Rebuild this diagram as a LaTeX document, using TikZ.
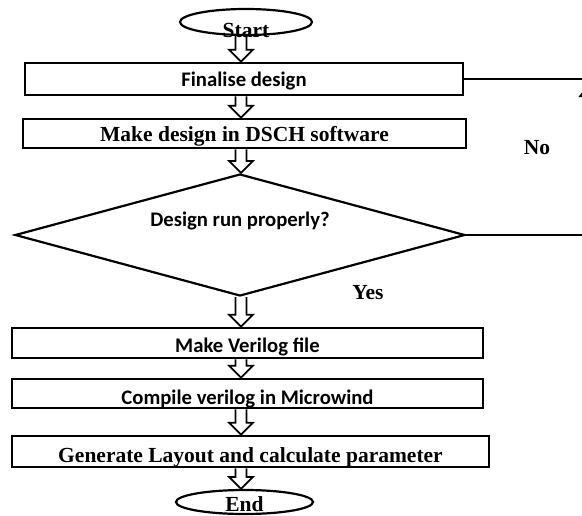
\documentclass[tikz,border=0pt]{standalone}
\usepackage{fontspec}
\setmainfont{Liberation Serif}
\newfontfamily\calib{Carlito}
\usetikzlibrary{positioning,calc,arrows.meta,shapes.geometric}

% hollow block arrow from one node down to the next, on the spine
\newcommand{\blockarrow}[2]{%
  \draw[hollow] let \p1=(#1.south -| spine), \p2=(#2.north -| spine) in
    (\x1-5.5pt,\y1) -- (\x1-5.5pt,\y2+12pt) -- (\x1-12pt,\y2+12pt) -- (\x1,\y2)
    -- (\x1+12pt,\y2+12pt) -- (\x1+5.5pt,\y2+12pt) -- (\x1+5.5pt,\y1);}

\begin{document}
\begin{tikzpicture}[x=1pt, y=-1pt,
    box/.style={draw, line width=2.6pt, inner sep=0pt, text depth=0pt},
    term/.style={draw, ellipse, line width=2.2pt, inner sep=0pt},
    dec/.style={draw, diamond, aspect=3.69, line width=2.2pt, inner sep=0pt,
                minimum width=450pt, minimum height=122pt},
    serif/.style={font=\bfseries\fontsize{21.5}{23}\selectfont},
    sans/.style={font=\calib\bfseries\fontsize{20.7}{23}\selectfont},
    hollow/.style={line width=1.8pt, line join=miter},
    line/.style={line width=2.2pt},
]
\useasboundingbox (0,0) rectangle (582,515);
\coordinate (spine) at (241,0);

% ===== Terminals =====
\node[term, minimum width=132pt, minimum height=26pt,
      label={[serif, yshift=-8pt]center:Start}] at (246,22) (start) {};
\node[term, minimum width=137pt, minimum height=24pt,
      label={[serif, yshift=-2pt]center:End}] at (244.5,502) (end) {};

% ===== Steps =====
\node[box, sans, minimum width=438pt, minimum height=32pt, text height=15pt]
     at (244,79) (final) {Finalise design};
\node[box, serif, minimum width=443pt, minimum height=29pt, text height=15pt]
     at (244.5,133.5) (dsch) {Make design in DSCH software};
\node[dec, sans, text height=14pt, text depth=32pt]
     at (240,235) (check) {Design run properly?};
\node[box, sans, minimum width=471pt, minimum height=30pt, text height=18pt]
     at (247.5,343) (verilog) {Make Verilog file};
\node[box, sans, minimum width=471pt, minimum height=29pt, text height=21pt]
     at (247.5,393.5) (compile) {Compile verilog in Microwind};
\node[box, serif, minimum width=477pt, minimum height=31pt, text height=21pt]
     at (250.5,451.5) (layout) {Generate Layout and calculate parameter};

% ===== Branch labels =====
\node[serif] at (537,148) (no) {No};
\node[serif] at (368,293) (yes) {Yes};

% ===== Main flow =====
\blockarrow{start}{final}
\blockarrow{final}{dsch}
\blockarrow{dsch}{check}
\blockarrow{check}{verilog}
\blockarrow{verilog}{compile}
\blockarrow{compile}{layout}
\blockarrow{layout}{end}

% ===== No branch (runs off the right edge) =====
\coordinate (fbtop) at (590,79);
\coordinate (fbbot) at (590,235);
\draw[line] (final.east) -- (fbtop);
\draw[line] (check.east) -- (fbbot);
\draw[line, -{Latex[length=18pt,width=24pt]}] (fbbot) -- (fbtop);

\end{tikzpicture}
\end{document}
